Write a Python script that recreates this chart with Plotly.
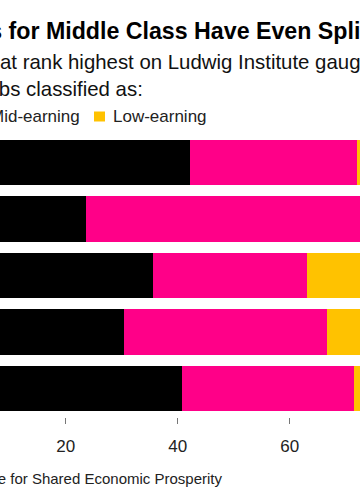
import plotly.graph_objects as go

# Data (percent of jobs); rows top to bottom
categories = ["Row 1", "Row 2", "Row 3", "Row 4", "Row 5"]
high_earning = [42.2, 23.6, 35.5, 30.4, 40.8]
mid_earning = [29.9, 51.0, 27.6, 36.2, 30.7]
low_earning = [round(100 - h - m, 1) for h, m in zip(high_earning, mid_earning)]
tick_vals = [0, 20, 40, 60, 80, 100]
tick_text = ["0", "20", "40", "60", "80", "100%"]

BLACK = "#000000"
PINK = "#FF0088"
YELLOW = "#FFC200"
FONT = "Liberation Sans, Arial, sans-serif"

W, H = 360, 504
T, B = 134, 87
PH = H - T - B


def py(pix):
    """pixel y (from top) -> paper y"""
    return (H - B - pix) / PH


fig = go.Figure()
for name, vals, col in [("High-earning", high_earning, BLACK),
                        ("Mid-earning", mid_earning, PINK),
                        ("Low-earning", low_earning, YELLOW)]:
    fig.add_trace(go.Bar(y=categories, x=vals, orientation="h", name=name,
                         marker=dict(color=col, line=dict(width=0)),
                         showlegend=False))

fig.update_layout(
    width=W, height=H, barmode="stack", bargap=0.2,
    margin=dict(l=0, r=0, t=T, b=B),
    plot_bgcolor="white", paper_bgcolor="white",
    font=dict(family=FONT, color="#222"),
    xaxis=dict(range=[8.27, 72.55], tickvals=tick_vals, ticktext=tick_text,
               showgrid=False, zeroline=False, showline=False,
               ticks="outside", ticklen=6, tickwidth=1, tickcolor="#777",
               tickfont=dict(size=17, color="#222"), ticklabelstandoff=8),
    yaxis=dict(autorange="reversed", showticklabels=False, showgrid=False,
               zeroline=False, showline=False),
)

ann = []
ann.append(dict(text="<b>Jobs for Middle Class Have Even Split</b>", x=0, xanchor="left",
                xshift=-54, y=py(31), yanchor="middle",
                font=dict(size=23.2, color="#000")))
ann.append(dict(text="that rank highest on Ludwig Institute gauge<br>jobs classified as:",
                x=0, xanchor="left", align="left", xshift=-20.5, y=py(75), yanchor="middle",
                font=dict(size=20.4, color="#111")))
# legend
legend_items = [("High-earning", BLACK, -150), ("Mid-earning", PINK, -11), ("Low-earning", YELLOW, 112)]
for name, col, tx in legend_items:
    ann.append(dict(text=name, x=0, xanchor="left", xshift=tx - 1, y=py(116), yanchor="middle",
                    font=dict(size=17, color="#222")))
    fig.add_shape(type="rect", xref="paper", yref="paper", xsizemode="pixel", ysizemode="pixel",
                  xanchor=0, yanchor=py(116.5), x0=tx - 18, x1=tx - 7, y0=-5, y1=5,
                  fillcolor=col, line=dict(width=0))
ann.append(dict(text="Source: Ludwig Institute for Shared Economic Prosperity",
                x=0, xanchor="left", xshift=-156, y=py(478.5), yanchor="middle",
                font=dict(size=15, color="#222")))
for a in ann:
    a.update(xref="paper", yref="paper", showarrow=False)
fig.update_layout(annotations=ann)

fig.write_html("out.html", config={"displayModeBar": False},
               post_script="document.body.style.margin='0';")
